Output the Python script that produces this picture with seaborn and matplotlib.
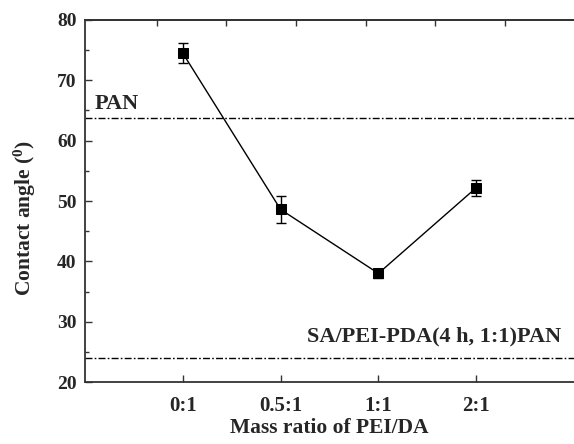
import matplotlib
matplotlib.use("Agg")
import matplotlib.pyplot as plt
import numpy as np
import pandas as pd
import seaborn as sns

ratios = ["0:1", "0.5:1", "1:1", "2:1"]
angle = [74.5, 48.6, 38.0, 52.2]
angle_err = [1.7, 2.3, 0.8, 1.3]
pan_angle = 63.7
sa_angle = 24.0
y_ticks = [20, 30, 40, 50, 60, 70, 80]

sns.set_theme(style="ticks")
plt.rcParams["font.family"] = ["Liberation Serif", "DejaVu Serif"]
plt.rcParams["font.weight"] = "bold"
plt.rcParams["mathtext.fontset"] = "custom"
plt.rcParams["mathtext.rm"] = "Liberation Serif:bold"
plt.rcParams["mathtext.it"] = "Liberation Serif:bold"
plt.rcParams["mathtext.bf"] = "Liberation Serif:bold"

df = pd.DataFrame({"pos": np.arange(len(ratios)), "angle": angle, "err": angle_err})

fig = plt.figure(figsize=(5.74, 4.44), dpi=100)
ax = fig.add_axes([85 / 574, 1 - 382 / 444, 1 - 85 / 574, (382 - 20) / 444])

sns.lineplot(data=df, x="pos", y="angle", ax=ax, color="black", linewidth=1.0,
             marker="s", markersize=6.5, markeredgecolor="black", zorder=3)
ax.errorbar(df["pos"], df["angle"], yerr=df["err"], fmt="none", ecolor="black",
            elinewidth=1.0, capsize=3.5, capthick=1.0, zorder=3)

dash = (0, (5, 1.6, 1.2, 1.6))
ax.axhline(pan_angle, color="black", linewidth=1.0, linestyle=dash)
ax.axhline(sa_angle, color="black", linewidth=1.0, linestyle=dash)
ax.text(-0.9, 66.1, "PAN", fontsize=16, fontweight="bold", va="center", ha="left")
ax.text(3.87, 27.5, "SA/PEI-PDA(4 h, 1:1)PAN", fontsize=16, fontweight="bold",
        va="center", ha="right")

ax.set_xlim(-1, 4)
ax.set_ylim(20, 80)
ax.set_xticks(df["pos"])
ax.set_xticklabels(ratios)
ax.set_yticks(y_ticks)
ax.set_yticks([25, 35, 45, 55, 65, 75], minor=True)
ax.tick_params(axis="both", which="both", direction="in", color="#333333")
ax.tick_params(axis="both", which="major", length=5, width=1.0)
ax.tick_params(axis="x", which="major", labelsize=15, pad=10)
ax.tick_params(axis="y", which="major", labelsize=14, pad=6)
ax.tick_params(axis="y", which="minor", length=3, width=1.0)
for lab in ax.get_xticklabels() + ax.get_yticklabels():
    lab.set_fontweight("bold")

ax.set_xlabel("Mass ratio of PEI/DA", fontsize=15.5, fontweight="bold")
ax.set_ylabel("Contact angle ($^0$)", fontsize=15.5, fontweight="bold")
ax.xaxis.set_label_coords(0.5, -0.099)
ax.yaxis.set_label_coords(-0.096, 0.453)

for side in ["left", "bottom", "top"]:
    ax.spines[side].set_color("#333333")
    ax.spines[side].set_linewidth(1.3)
ax.spines["right"].set_visible(False)

top = ax.twiny()
top.set_xlim(-1.03, 5.99)
top.set_xticks(range(6))
top.tick_params(axis="x", direction="in", length=4, width=1.0, labeltop=False, color="#333333")
for side in ["left", "bottom", "right"]:
    top.spines[side].set_visible(False)
top.spines["top"].set_color("#333333")
top.spines["top"].set_linewidth(1.3)

fig.savefig("out.png", dpi=100)
